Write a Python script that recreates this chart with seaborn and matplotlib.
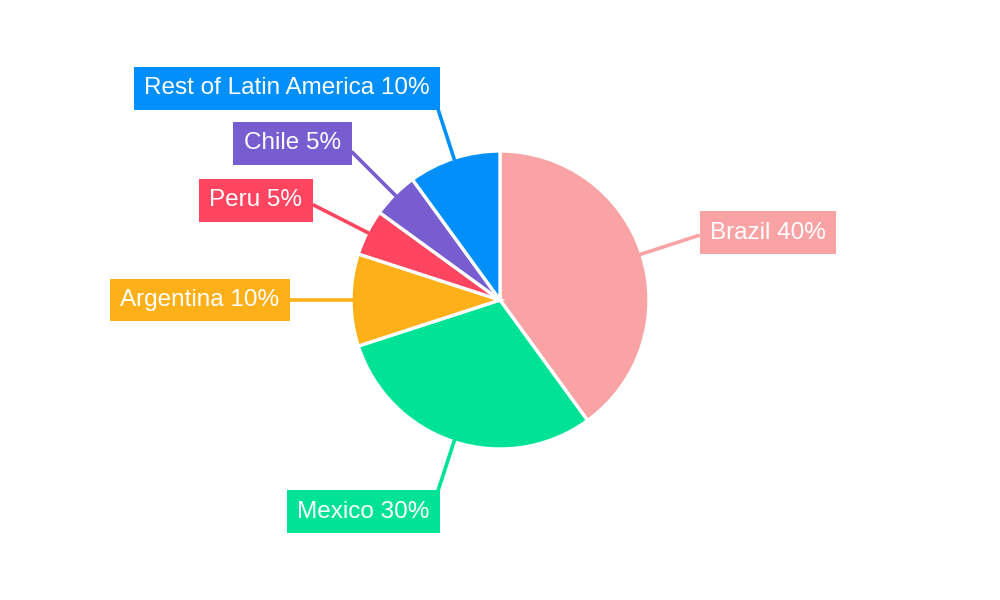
import numpy as np
import matplotlib
matplotlib.use("Agg")
import matplotlib.pyplot as plt
import seaborn as sns

categories = ["Brazil", "Mexico", "Argentina", "Peru", "Chile", "Rest of Latin America"]
shares = [40, 30, 10, 5, 5, 10]
colors = ["#F9A3A4", "#00E396", "#FEB019", "#FF4560", "#775DD0", "#008FFB"]

sns.set_theme(style="white")
plt.rcParams["font.family"] = ["Liberation Sans", "DejaVu Sans"]

W, H = 1000, 600
fig = plt.figure(figsize=(10, 6), dpi=100)
ax = fig.add_axes([0, 0, 1, 1])

cx, cy, R = 500, 300, 149
ax.pie(shares, colors=colors, startangle=90, counterclock=False,
       radius=R, center=(cx, cy),
       wedgeprops=dict(edgecolor="white", linewidth=2.4))
ax.set_xlim(0, W)
ax.set_ylim(0, H)
ax.set_aspect("equal")
ax.axis("off")

fs = 17.5
pad = 0.43
pad_px = pad * fs * 100 / 72
total = float(sum(shares))
cum = 0.0
for name, v, col in zip(categories, shares, colors):
    mid = np.deg2rad(90 - 360 * (cum + v / 2) / total)
    cum += v
    c, s = np.cos(mid), np.sin(mid)
    r_line = 210
    ax.plot([cx + (R - 2) * c, cx + r_line * c], [cy + (R - 2) * s, cy + r_line * s],
            color=col, lw=2.6, solid_capstyle="butt", zorder=1)
    ha = "left" if c > 0 else "right"
    if abs(s) > 0.9:
        r_box = 200
        ax_, ay_ = cx + r_box * c + 2, cy + r_box * s
        va = "bottom" if s > 0 else "top"
        tx = ax_ - pad_px if ha == "right" else ax_ + pad_px
        ty = ay_ + pad_px if va == "bottom" else ay_ - pad_px
    else:
        ax_, ay_ = cx + r_line * c, cy + r_line * s
        va = "center_baseline"
        tx = ax_ - pad_px if ha == "right" else ax_ + pad_px
        ty = ay_ + 14 * s * abs(s) ** 0.5
        va = "center"
    ax.text(tx, ty, f"{name} {v}%", ha=ha, va=va, fontsize=fs, color="white",
            zorder=5,
            bbox=dict(boxstyle=f"square,pad={pad}", facecolor=col, edgecolor="none"))

fig.savefig("out.png", dpi=100, facecolor="white")
